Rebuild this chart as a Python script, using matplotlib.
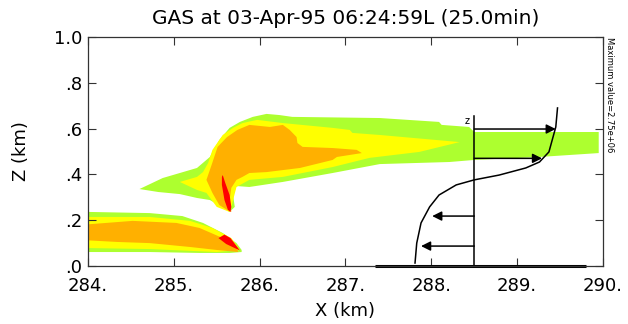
import matplotlib
matplotlib.use("Agg")
import matplotlib.pyplot as plt

plt.rcParams['font.family'] = ['DejaVu Sans']

# concentration contour outlines (x km, z km)
upper_green = [(284.60, 0.336), (284.87, 0.384), (285.27, 0.428), (285.42, 0.476), (285.53, 0.550),
               (285.65, 0.603), (285.77, 0.629), (285.92, 0.651), (286.08, 0.664), (286.23, 0.659),
               (286.38, 0.651), (287.40, 0.646), (288.09, 0.629), (288.12, 0.616), (288.44, 0.607),
               (288.50, 0.585), (289.95, 0.585), (289.95, 0.493), (289.26, 0.476), (288.50, 0.463),
               (288.21, 0.454), (287.40, 0.445), (286.85, 0.406), (286.27, 0.367), (285.88, 0.345),
               (285.73, 0.349), (285.69, 0.310), (285.71, 0.258), (285.65, 0.236), (285.56, 0.258),
               (285.42, 0.288), (285.27, 0.297), (285.07, 0.314), (284.82, 0.323)]
upper_yellow = [(285.07, 0.367), (285.27, 0.389), (285.34, 0.410), (285.40, 0.450), (285.45, 0.507),
                (285.57, 0.572), (285.69, 0.603), (285.80, 0.624), (285.97, 0.638), (286.27, 0.624),
                (286.85, 0.603), (287.05, 0.594), (287.08, 0.581), (287.40, 0.572), (288.33, 0.541),
                (287.86, 0.498), (287.28, 0.472), (286.85, 0.432), (286.27, 0.389), (285.88, 0.376),
                (285.73, 0.345), (285.67, 0.258), (285.65, 0.236), (285.50, 0.258), (285.38, 0.319),
                (285.27, 0.332)]
upper_orange = [(285.38, 0.376), (285.44, 0.441), (285.51, 0.520), (285.62, 0.563), (285.74, 0.594),
                (285.88, 0.616), (286.12, 0.607), (286.27, 0.616), (286.35, 0.594), (286.43, 0.563),
                (286.44, 0.537), (286.50, 0.520), (286.85, 0.515), (287.13, 0.507), (287.19, 0.493),
                (286.90, 0.476), (286.85, 0.463), (286.47, 0.428), (286.08, 0.410), (285.88, 0.406),
                (285.80, 0.389), (285.73, 0.376), (285.67, 0.341), (285.65, 0.288), (285.67, 0.236),
                (285.62, 0.245), (285.53, 0.266), (285.45, 0.319)]
upper_red = [(285.57, 0.397), (285.60, 0.362), (285.65, 0.310), (285.67, 0.258), (285.66, 0.236),
             (285.63, 0.245), (285.59, 0.288), (285.56, 0.354), (285.56, 0.389)]
lower_green = [(283.9, 0.245), (284.02, 0.236), (284.72, 0.231), (285.10, 0.218), (285.34, 0.188),
               (285.57, 0.144), (285.73, 0.100), (285.79, 0.070), (285.79, 0.061), (285.65, 0.057),
               (285.30, 0.057), (284.72, 0.061), (283.9, 0.061)]
lower_yellow = [(283.9, 0.214), (284.72, 0.214), (285.19, 0.197), (285.45, 0.166), (285.67, 0.122),
                (285.77, 0.070), (285.50, 0.061), (284.72, 0.074), (283.9, 0.079)]
lower_orange = [(283.9, 0.179), (284.52, 0.197), (285.03, 0.188), (285.30, 0.166), (285.57, 0.122),
                (285.73, 0.083), (285.75, 0.061), (285.50, 0.070), (285.19, 0.083), (284.72, 0.100),
                (284.34, 0.105), (283.9, 0.114)]
lower_red = [(285.52, 0.122), (285.59, 0.137), (285.66, 0.122), (285.77, 0.068), (285.70, 0.080),
             (285.61, 0.096)]

level_colors = {'green': '#adff2f', 'yellow': '#ffff00', 'orange': '#ffb000', 'red': '#ff0000'}

# wind profile
profile_x = [289.47, 289.45, 289.37, 289.26, 289.10, 288.79, 288.50, 288.29, 288.09, 287.98, 287.88, 287.83, 287.81]
profile_z = [0.69, 0.607, 0.498, 0.454, 0.428, 0.397, 0.376, 0.354, 0.31, 0.258, 0.188, 0.10, 0.013]
profile_axis_x = 288.5
profile_top = 0.655
arrow_z = [0.598, 0.47, 0.218, 0.087]
arrow_tip_x = [289.45, 289.29, 288.01, 287.88]
baseline_x = [287.34, 289.8]

xticks = [284, 285, 286, 287, 288, 289, 290]
xticklabels = ['284.', '285.', '286.', '287.', '288.', '289.', '290.']
yticks = [0.0, 0.2, 0.4, 0.6, 0.8, 1.0]
yticklabels = ['.0', '.2', '.4', '.6', '.8', '1.0']

fig = plt.figure(figsize=(6.28, 3.24), dpi=100)
ax = fig.add_axes([0.1401, 0.179, 0.8201, 0.707])

for polys, col in [((upper_green, lower_green), 'green'), ((upper_yellow, lower_yellow), 'yellow'),
                   ((upper_orange, lower_orange), 'orange'), ((upper_red, lower_red), 'red')]:
    for p in polys:
        xs, zs = zip(*p)
        ax.fill(xs, zs, color=level_colors[col], lw=0)

ax.plot(profile_x, profile_z, color='k', lw=1.1)
ax.plot([profile_axis_x, profile_axis_x], [0, profile_top], color='k', lw=1.1)
ax.plot(baseline_x, [0.0, 0.0], color='k', lw=2.2, solid_capstyle='butt', clip_on=False)
ax.text(profile_axis_x - 0.05, profile_top - 0.02, 'z', fontsize=7, ha='right', va='center')
for z, tx in zip(arrow_z, arrow_tip_x):
    ax.annotate('', xy=(tx, z), xytext=(profile_axis_x, z),
                arrowprops=dict(arrowstyle='-|>', color='k', lw=1.1, mutation_scale=14,
                                shrinkA=0, shrinkB=0))

ax.set_xlim(284, 290)
ax.set_ylim(0, 1)
ax.set_xticks(xticks)
ax.set_xticklabels(xticklabels)
ax.set_yticks(yticks)
ax.set_yticklabels(yticklabels)
ax.tick_params(direction='in', top=True, right=True, length=6, width=0.8,
               labelsize=13, colors='#333333', labelcolor='black')
ax.tick_params(axis='x', pad=8)
ax.tick_params(axis='y', pad=4)
for s in ax.spines.values():
    s.set_linewidth(0.9)
    s.set_color('#333333')

ax.set_xlabel('X (km)', fontsize=13, labelpad=5)
ax.set_ylabel('Z (km)', fontsize=13, labelpad=17)
ax.set_title('GAS at 03-Apr-95 06:24:59L (25.0min)', fontsize=14.5, pad=9)
ax.text(1.003, 1.0, 'Maximum value=2.75e+06', transform=ax.transAxes, rotation=-90,
        fontsize=6, ha='left', va='top')

fig.savefig('out.png', dpi=100)
